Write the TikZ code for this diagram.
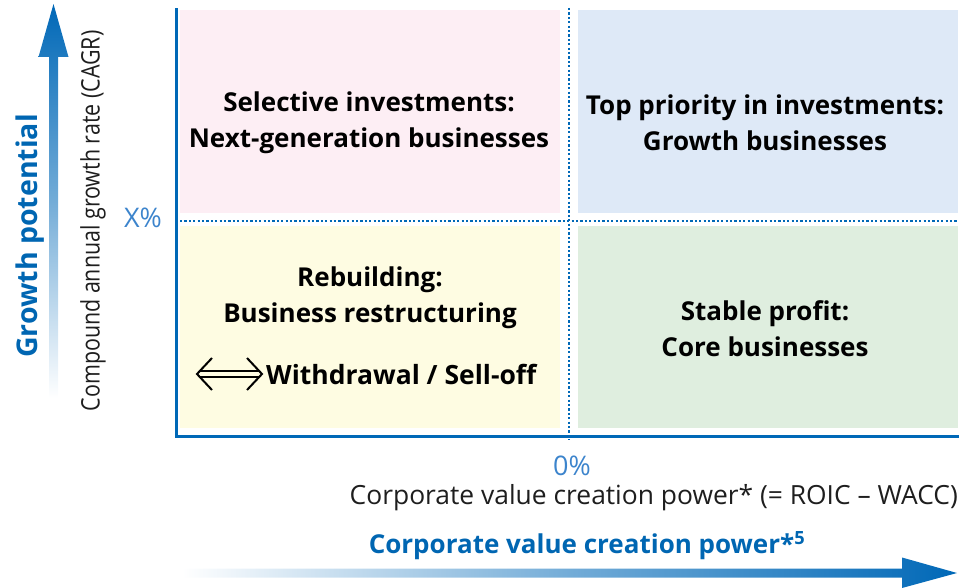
\documentclass[tikz,border=0pt]{standalone}
\usepackage{fontspec}
\setmainfont{Open Sans}
\newfontfamily\condfont[FakeStretch=0.84]{Open Sans}
\usetikzlibrary{positioning}
\definecolor{axisblue}{RGB}{0,104,183}
\definecolor{txtblue}{RGB}{0,102,178}
\definecolor{lightblue}{RGB}{60,132,204}
\definecolor{qpink}{RGB}{253,238,244}
\definecolor{qblue}{RGB}{222,233,247}
\definecolor{qyellow}{RGB}{254,252,226}
\definecolor{qgreen}{RGB}{223,238,223}
\definecolor{txtdark}{RGB}{30,30,30}
\tikzset{
  quad/.style={fill=#1, draw=none},
  qlabel/.style={font=\fontsize{26}{36}\selectfont\bfseries, align=center, text=black, inner sep=0pt},
  sep/.style={draw=axisblue, line width=1.8pt, dash pattern=on 2.2pt off 2.2pt},
  axisline/.style={draw=axisblue, line width=2.4pt},
  dblarrow/.style={draw=black, line width=2pt, line join=miter},
}
\begin{document}
\begin{tikzpicture}[x=1pt,y=-1pt]
\useasboundingbox (0,0) rectangle (976,588);
% quadrants
\fill[quad=qpink] (180,10) rectangle (560,213);
\fill[quad=qblue] (578,10) rectangle (958,213);
\fill[quad=qyellow] (180,226) rectangle (560,428);
\fill[quad=qgreen] (578,226) rectangle (958,428);
% separators
\draw[sep] (569,8) -- (569,440);
\draw[sep] (180,221) -- (958,221);
% axes
\draw[axisline, line cap=rect] (176.5,9) -- (176.5,436.5) -- (958,436.5);
% gradient arrows
\shade[top color=axisblue, bottom color=white, middle color=axisblue!55]
  (49,398) -- (49,57) -- (38.5,57) -- (53.5,4) -- (68.5,57) -- (58,57) -- (58,398) -- cycle;
\shade[left color=white, right color=axisblue, middle color=axisblue!55]
  (182,568.5) -- (902,568.5) -- (902,557.5) -- (957,573) -- (902,588) -- (902,577.5) -- (182,577.5) -- cycle;
% axis labels
\node[rotate=90, font=\fontsize{28.5}{32}\selectfont\bfseries, text=txtblue, inner sep=0pt] (gp) at (30,236) {Growth potential};
\node[rotate=90, font=\condfont\fontsize{25.5}{30}\selectfont, text=txtdark, inner sep=0pt] (cagr) at (93,221) {Compound annual growth rate (CAGR)};
\node[font=\fontsize{27}{30}\selectfont, text=lightblue, inner sep=0pt] (xp) at (143,218) {X\%};
\node[font=\fontsize{27}{30}\selectfont, text=lightblue, inner sep=0pt] (zp) at (572,466) {0\%};
\node[font=\fontsize{26.4}{30}\selectfont, text=txtdark, inner sep=0pt, anchor=east] (cv) at (958,498) {Corporate value creation power* (= ROIC – WACC)};
\node[font=\fontsize{26}{30}\selectfont\bfseries, text=txtblue, inner sep=0pt] (cvb) at (587,546) {Corporate value creation power*\textsuperscript{5}};
% quadrant labels
\node[qlabel] (q1) at (369,123) {Selective investments:\\Next-generation businesses};
\node[qlabel] (q2) at (765,123) {Top priority in investments:\\Growth businesses};
\node[qlabel] (q3) at (370,298) {Rebuilding:\\Business restructuring};
\node[qlabel] (q4) at (765,329) {Stable profit:\\Core businesses};
\node[qlabel, anchor=west, font=\fontsize{26.5}{36}\selectfont\bfseries] (q5) at (266,374) {Withdrawal / Sell-off};
% double arrow
\draw[dblarrow] (200,371) -- (259,371);
\draw[dblarrow] (200,377) -- (259,377);
\draw[dblarrow] (212,358) -- (197,374) -- (212,390);
\draw[dblarrow] (247,358) -- (262,374) -- (247,390);
\end{tikzpicture}
\end{document}
